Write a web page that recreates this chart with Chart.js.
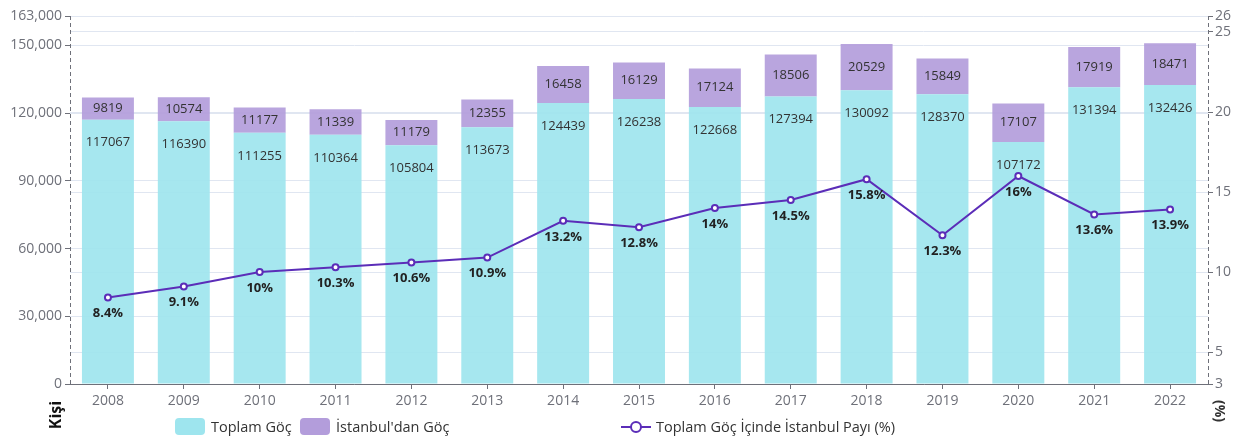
<!DOCTYPE html>
<html>
<head>
<meta charset="utf-8">
<script src="https://cdn.jsdelivr.net/npm/chart.js@4/dist/chart.umd.min.js"></script>
<style>
    body { margin: 0; background: #fff; font-family: "Open Sans", sans-serif; }
    #wrap { position: relative; width: 1239px; height: 439px; }
    .legend-item { position: absolute; top: 418px; height: 18px; font-size: 14.5px; color: #333; line-height: 18px; white-space: nowrap; }
    .legend-box { display: inline-block; width: 30px; height: 17px; border-radius: 4px; vertical-align: top; margin-right: 6px; }
</style>
</head>
<body>
<div id="wrap">
    <canvas id="grafico" width="1239" height="439"></canvas>
    <div class="legend-item" style="left:175px"><span class="legend-box" style="background:#9EE5EE"></span>Toplam Göç</div>
    <div class="legend-item" style="left:300px"><span class="legend-box" style="background:#B39DDB"></span>İstanbul'dan Göç</div>
    <div class="legend-item" style="left:620px">
        <svg width="32" height="18" style="vertical-align:top;margin-right:4px"><line x1="1" y1="9" x2="31" y2="9" stroke="#5B2DB8" stroke-width="2"/><circle cx="16" cy="9" r="5" fill="#fff" stroke="#5B2DB8" stroke-width="2"/></svg>Toplam Göç İçinde İstanbul Payı (%)
    </div>
</div>
<script>
var yillar = ['2008', '2009', '2010', '2011', '2012', '2013', '2014', '2015', '2016', '2017', '2018', '2019', '2020', '2021', '2022'];
var toplamGoc = [117067, 116390, 111255, 110364, 105804, 113673, 124439, 126238, 122668, 127394, 130092, 128370, 107172, 131394, 132426];
var istanbulGoc = [9819, 10574, 11177, 11339, 11179, 12355, 16458, 16129, 17124, 18506, 20529, 15849, 17107, 17919, 18471];
var istanbulPayi = [8.4, 9.1, 10, 10.3, 10.6, 10.9, 13.2, 12.8, 14, 14.5, 15.8, 12.3, 16, 13.6, 13.9];
var solTikler = [0, 30000, 60000, 90000, 120000, 150000, 163000];
var sagTikler = [3, 5, 10, 15, 20, 25, 26];

var fonte = '"Open Sans", sans-serif';

// kesikli eksen cizgileri (border.dash grid cizgilerini de kesikli yapiyor)
var eksenPlugin = {
    id: 'eksenler',
    beforeDatasetsDraw: function (chart) {
        var ctx = chart.ctx;
        var a = chart.chartArea;
        ctx.save();
        ctx.strokeStyle = '#6E7079';
        ctx.lineWidth = 1;
        ctx.setLineDash([4, 3]);
        [a.left, a.right].forEach(function (x) {
            ctx.beginPath();
            ctx.moveTo(Math.round(x) + 0.5, a.top);
            ctx.lineTo(Math.round(x) + 0.5, a.bottom);
            ctx.stroke();
        });
        ctx.restore();
    }
};

// etiketler ve eksen adlari
var etiketPlugin = {
    id: 'etiketler',
    afterDatasetsDraw: function (chart) {
        var ctx = chart.ctx;
        ctx.save();
        ctx.textAlign = 'center';
        ctx.textBaseline = 'middle';

        ctx.font = '13px ' + fonte;
        ctx.fillStyle = '#333';
        chart.getDatasetMeta(0).data.forEach(function (bar, i) {
            ctx.fillText(toplamGoc[i], bar.x, bar.y + 23);
        });
        chart.getDatasetMeta(1).data.forEach(function (bar, i) {
            ctx.fillText(istanbulGoc[i], bar.x, (bar.y + bar.base) / 2);
        });

        ctx.font = 'bold 13px ' + fonte;
        ctx.fillStyle = '#222';
        chart.getDatasetMeta(2).data.forEach(function (pt, i) {
            ctx.fillText(istanbulPayi[i] + '%', pt.x, pt.y + 16);
        });

        ctx.font = 'bold 16px ' + fonte;
        ctx.fillStyle = '#111';
        ctx.translate(56, 415);
        ctx.rotate(-Math.PI / 2);
        ctx.fillText('Kişi', 0, 0);
        ctx.restore();

        ctx.save();
        ctx.font = 'bold 14px ' + fonte;
        ctx.fillStyle = '#333';
        ctx.textAlign = 'center';
        ctx.textBaseline = 'middle';
        ctx.translate(1219, 411);
        ctx.rotate(Math.PI / 2);
        ctx.fillText('(%)', 0, 0);
        ctx.restore();
    }
};

var ctx = document.getElementById('grafico').getContext('2d');
new Chart(ctx, {
    type: 'bar',
    data: {
        labels: yillar,
        datasets: [{
            label: 'Toplam Göç',
            data: toplamGoc,
            backgroundColor: 'rgba(158, 229, 238, 0.92)',
            yAxisID: 'y',
            order: 2
        }, {
            label: "İstanbul'dan Göç",
            data: istanbulGoc,
            backgroundColor: 'rgba(179, 157, 219, 0.92)',
            yAxisID: 'y',
            order: 2
        }, {
            type: 'line',
            label: 'Toplam Göç İçinde İstanbul Payı (%)',
            data: istanbulPayi,
            yAxisID: 'y1',
            borderColor: '#5B2DB8',
            borderWidth: 2,
            pointRadius: 3,
            pointBorderWidth: 2,
            pointBackgroundColor: '#fff',
            pointBorderColor: '#5B2DB8',
            tension: 0,
            order: 0
        }]
    },
    options: {
        responsive: false,
        animation: false,
        layout: { padding: { top: 16, left: 0, right: 0, bottom: 0 } },
        datasets: { bar: { categoryPercentage: 1, barPercentage: 0.685 } },
        plugins: {
            legend: { display: false },
            tooltip: { enabled: false }
        },
        scales: {
            x: {
                stacked: true,
                offset: true,
                grid: { drawOnChartArea: false, offset: false, tickLength: 5, tickColor: '#6E7079' },
                border: { color: '#6E7079' },
                ticks: { color: '#6E7079', font: { family: fonte, size: 14 }, padding: 4, maxRotation: 0 },
                afterFit: function (scale) { scale.height = 55; }
            },
            y: {
                stacked: true,
                position: 'left',
                min: 0,
                max: 163000,
                afterBuildTicks: function (scale) {
                    scale.ticks = solTikler.map(function (v) { return { value: v }; });
                },
                grid: { color: '#E0E6F1', tickLength: 5, tickColor: '#6E7079' },
                border: { display: false },
                ticks: {
                    color: '#6E7079', font: { family: fonte, size: 14 }, padding: 3,
                    callback: function (v) { return v.toLocaleString('en-US'); }
                },
                afterFit: function (scale) { scale.width = 70; }
            },
            y1: {
                position: 'right',
                min: 3,
                max: 26,
                afterBuildTicks: function (scale) {
                    scale.ticks = sagTikler.map(function (v) { return { value: v }; });
                },
                grid: { color: '#E0E6F1', tickLength: 5, tickColor: '#6E7079' },
                border: { display: false },
                ticks: { color: '#6E7079', font: { family: fonte, size: 14 }, padding: 2 },
                afterFit: function (scale) { scale.width = 31; }
            }
        }
    },
    plugins: [eksenPlugin, etiketPlugin]
});
</script>
</body>
</html>
